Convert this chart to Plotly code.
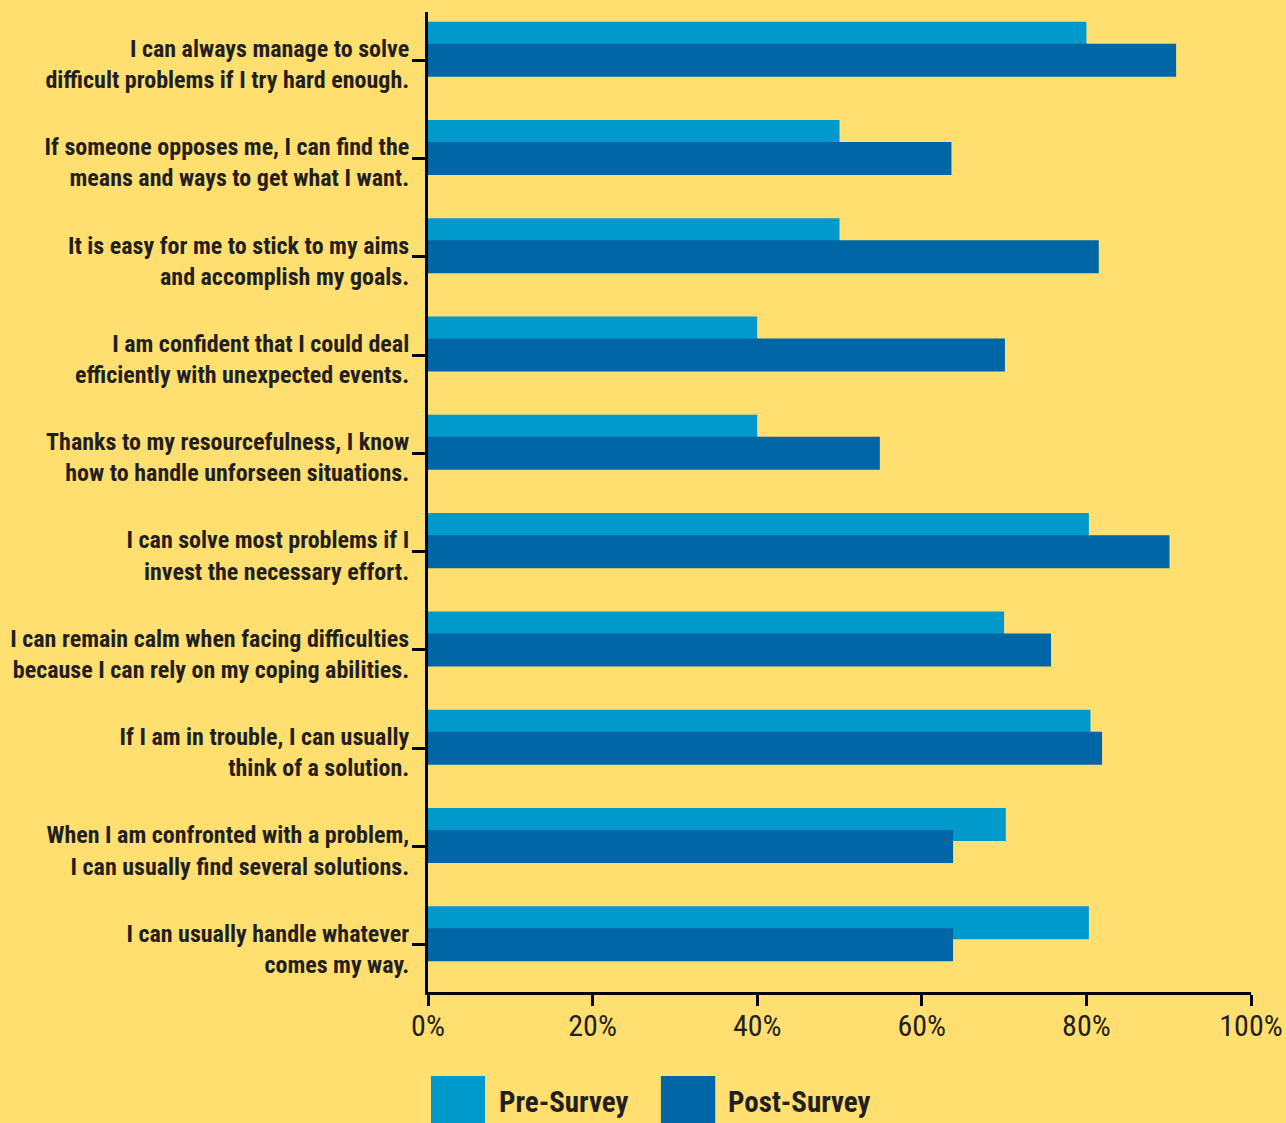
import plotly.graph_objects as go

categories = [
    "I can always manage to solve<br>difficult problems if I try hard enough.",
    "If someone opposes me, I can find the<br>means and ways to get what I want.",
    "It is easy for me to stick to my aims<br>and accomplish my goals.",
    "I am confident that I could deal<br>efficiently with unexpected events.",
    "Thanks to my resourcefulness, I know<br>how to handle unforseen situations.",
    "I can solve most problems if I<br>invest the necessary effort.",
    "I can remain calm when facing difficulties<br>because I can rely on my coping abilities.",
    "If I am in trouble, I can usually<br>think of a solution.",
    "When I am confronted with a problem,<br>I can usually find several solutions.",
    "I can usually handle whatever<br>comes my way.",
]
pre_survey = [80, 50, 50, 40, 40, 80.3, 70, 80.5, 70.2, 80.3]
post_survey = [90.9, 63.6, 81.5, 70.1, 54.9, 90.1, 75.7, 81.9, 63.8, 63.8]
x_ticks = [0, 20, 40, 60, 80, 100]
x_tick_labels = ["0%", "20%", "40%", "60%", "80%", "100%"]
series_names = ["Pre-Survey", "Post-Survey"]

PRE_COLOR = "#0099CC"
POST_COLOR = "#0066A6"
BG = "#FFDF70"
TEXT = "#231F20"
FONT = "'Roboto Condensed', 'Open Sans Condensed', sans-serif"

idx = list(range(len(categories)))
bar_w = 0.336
pre_off = -0.224

fig = go.Figure()
fig.add_trace(go.Bar(
    y=[i + pre_off for i in idx], x=pre_survey, orientation="h",
    width=bar_w, marker=dict(color=PRE_COLOR, line=dict(width=0)),
    name=series_names[0], showlegend=False,
))
fig.add_trace(go.Bar(
    y=idx, x=post_survey, orientation="h",
    width=bar_w, marker=dict(color=POST_COLOR, line=dict(width=0)),
    name=series_names[1], showlegend=False,
))

fig.update_layout(
    width=1286, height=1123,
    margin=dict(l=428, r=35, t=12, b=131),
    paper_bgcolor=BG, plot_bgcolor=BG,
    barmode="overlay",
    font=dict(family=FONT, color=TEXT),
    xaxis=dict(
        range=[0, 100], tickvals=x_ticks, ticktext=x_tick_labels,
        showgrid=False, zeroline=False, automargin=False,
        showline=True, linecolor="black", linewidth=3,
        ticks="outside", ticklen=11, tickwidth=3, tickcolor="black",
        ticklabeloverflow="allow", ticklabelstandoff=-6,
        tickfont=dict(size=30, family=FONT, color=TEXT),
    ),
    yaxis=dict(
        range=[9.48, -0.49], tickvals=idx, ticktext=[f"<b>{c}</b>" for c in categories],
        showgrid=False, zeroline=False, automargin=False,
        showline=True, linecolor="black", linewidth=3,
        ticks="outside", ticklen=13, tickwidth=2.5, tickcolor="black",
        ticklabelstandoff=-2, ticklabelshift=-4,
        tickfont=dict(size=24, family=FONT, color=TEXT),
    ),
)

# Legend swatches and labels
legend_items = [
    (series_names[0], PRE_COLOR, 0.0036, 0.0693, 0.0838),
    (series_names[1], POST_COLOR, 0.283, 0.349, 0.362),
]
for name, color, x0, x1, tx in legend_items:
    fig.add_shape(type="rect", xref="paper", yref="paper",
                  x0=x0, x1=x1, y0=-0.0857, y1=-0.15,
                  fillcolor=color, line=dict(width=0), layer="above")
    fig.add_annotation(xref="paper", yref="paper", x=tx, y=-0.112,
                       xanchor="left", yanchor="middle", showarrow=False,
                       text=f"<b>{name}</b>",
                       font=dict(size=29, family=FONT, color=TEXT))

fig.write_html("out.html")
